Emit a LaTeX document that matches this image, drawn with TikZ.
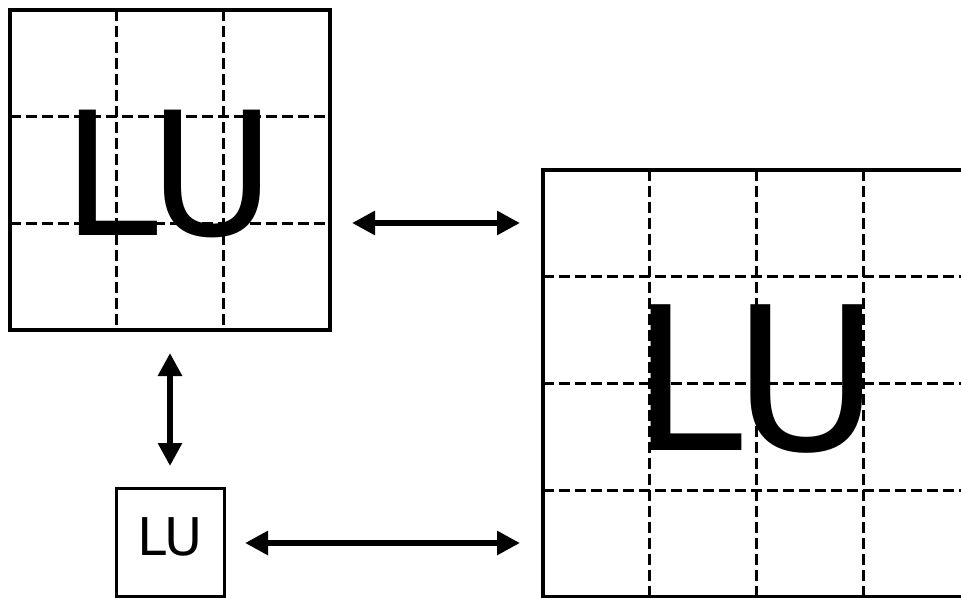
\documentclass[tikz,border=0pt]{standalone}
\usepackage{fontspec}
\setmainfont{DejaVu Sans}
\usetikzlibrary{arrows.meta,calc}
\tikzset{
  bigsq/.style={draw, line width=4.2pt, inner sep=0pt, outer sep=0pt},
  smallsq/.style={draw, line width=3pt, inner sep=0pt, outer sep=0pt, minimum size=108pt},
  gridline/.style={line width=2.8pt, dash pattern=on 11pt off 5pt},
  arr/.style={line width=6pt, {Triangle[length=23pt,width=23pt]}-{Triangle[length=23pt,width=23pt]}},
  lbl/.style={inner sep=0pt, outer sep=0pt, anchor=base}
}
\begin{document}
\begin{tikzpicture}[x=1pt,y=-1pt]
\useasboundingbox (0,0) rectangle (961,597);
\clip (0,0) rectangle (961,597);
% squares
\node[bigsq, minimum size=320pt] (A) at (170,170) {};
\node[bigsq, minimum size=427pt] (B) at (756.5,383.5) {};
\node[smallsq] (C) at (170,542) {};
% grid of A
\foreach \f in {1/3,2/3} {
  \draw[gridline] ($(A.north west)!\f!(A.north east)$) -- ($(A.south west)!\f!(A.south east)$);
  \draw[gridline] ($(A.north west)!\f!(A.south west)$) -- ($(A.north east)!\f!(A.south east)$);
}
% grid of B
\foreach \f in {1/4,2/4,3/4} {
  \draw[gridline] ($(B.north west)!\f!(B.north east)$) -- ($(B.south west)!\f!(B.south east)$);
  \draw[gridline] ($(B.north west)!\f!(B.south west)$) -- ($(B.north east)!\f!(B.south east)$);
}
% labels
\node[lbl, font=\fontsize{172}{174}\selectfont] (tA) at (169,235) {LU};
\node[lbl, font=\fontsize{200}{202}\selectfont] (tB) at (755.5,450) {LU};
\node[lbl, font=\fontsize{52}{53}\selectfont] (tC) at (170,555) {LU};
% arrows
\draw[arr] ([xshift=22pt]A.east |- 0,223) -- ([xshift=-23pt]B.west |- 0,223);
\draw[arr] ([yshift=-23pt]A.south) -- ([yshift=22pt]C.north);
\draw[arr] ([xshift=21pt]C.east |- 0,543) -- ([xshift=-23pt]B.west |- 0,543);
\end{tikzpicture}
\end{document}
